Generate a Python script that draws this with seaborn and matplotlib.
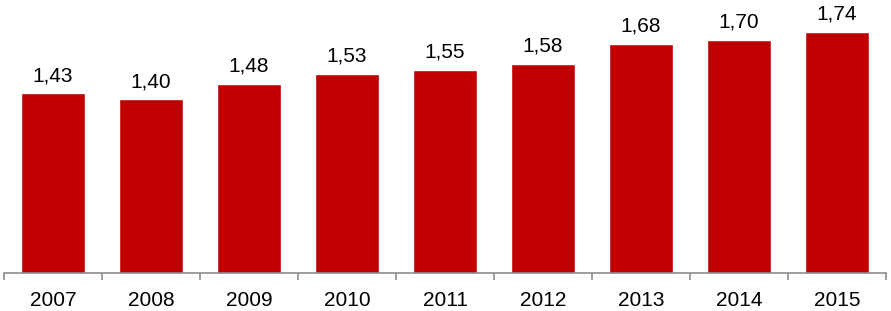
import matplotlib
matplotlib.use("Agg")
import matplotlib.pyplot as plt
import seaborn as sns
import pandas as pd
import numpy as np
from matplotlib.ticker import FixedLocator

years = ["2007", "2008", "2009", "2010", "2011", "2012", "2013", "2014", "2015"]
values = [1.43, 1.40, 1.48, 1.53, 1.55, 1.58, 1.68, 1.70, 1.74]
labels = ["1,43", "1,40", "1,48", "1,53", "1,55", "1,58", "1,68", "1,70", "1,74"]

sns.set_theme(style="white")
plt.rcParams["font.family"] = ["Liberation Sans", "DejaVu Sans"]

df = pd.DataFrame({"year": years, "value": values})

fig = plt.figure(figsize=(8.91, 3.11), dpi=100)
ax = fig.add_axes([4/891, (311-273)/311, 882/891, 273/311])

sns.barplot(data=df, x="year", y="value", color="#C00000", saturation=1,
            width=0.65, ax=ax)

ax.set_xlim(-0.5, len(years) - 0.5)
ax.set_ylim(0.52, 0.52 + 273/197.3)

for i, (v, lab) in enumerate(zip(values, labels)):
    ax.annotate(lab, (i, v), xytext=(0, 6), textcoords="offset points",
                ha="center", va="bottom", fontsize=15, color="#000000")

for s in ["top", "right", "left"]:
    ax.spines[s].set_visible(False)
ax.spines["bottom"].set_color("#8c8c8c")
ax.spines["bottom"].set_linewidth(1.2)

ax.set_yticks([])
ax.set_xlabel("")
ax.set_ylabel("")
ax.xaxis.set_minor_locator(FixedLocator(np.arange(-0.5, len(years), 1.0)))
ax.tick_params(axis="x", which="major", length=0, pad=13, labelsize=15,
               labelcolor="#000000")
ax.tick_params(axis="x", which="minor", length=5, width=1.2, color="#8c8c8c",
               direction="out", bottom=True)

fig.savefig("out.png", dpi=100)
